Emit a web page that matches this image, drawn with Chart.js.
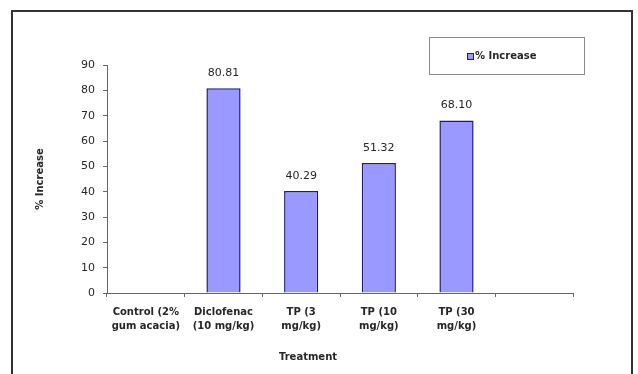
<!DOCTYPE html>
<html>
<head>
<meta charset="utf-8">
<script src="https://cdn.jsdelivr.net/npm/chart.js@4.4.1/dist/chart.umd.min.js"></script>
<style>
  html, body { margin: 0; padding: 0; background: #ffffff; }
  #wrap { width: 638px; height: 374px; position: relative; }
</style>
</head>
<body>
<div id="wrap"><canvas id="c" width="638" height="374"></canvas></div>
<script>
// Treatment groups (the last slot is left empty on the category axis)
const categories = [
  ['Control (2%', 'gum acacia)'],
  ['Diclofenac', '(10 mg/kg)'],
  ['TP (3', 'mg/kg)'],
  ['TP (10', 'mg/kg)'],
  ['TP (30', 'mg/kg)'],
  ''
];
// Percent increase per group
const percentIncrease = [null, 80.81, 40.29, 51.32, 68.10, null];
const yTicks = [0, 10, 20, 30, 40, 50, 60, 70, 80, 90];
const seriesName = '% Increase';

const FONT = '"DejaVu Sans", "Liberation Sans", Arial, sans-serif';
const BAR_FILL = '#9999ff';
const BAR_EDGE = '#1a1a80';
const TEXT = '#262626';

// Outer frame, legend box, value labels and axis title
const decorations = {
  id: 'decorations',
  afterDraw(chart) {
    const ctx = chart.ctx;
    const area = chart.chartArea;
    ctx.save();

    // frame around the figure
    ctx.strokeStyle = '#333333';
    ctx.lineWidth = 2;
    ctx.beginPath();
    ctx.moveTo(12, 380);
    ctx.lineTo(12, 11);
    ctx.lineTo(632, 11);
    ctx.lineTo(632, 380);
    ctx.stroke();

    // value labels above the bars
    const meta = chart.getDatasetMeta(0);
    ctx.fillStyle = TEXT;
    ctx.font = '11px ' + FONT;
    ctx.textAlign = 'center';
    ctx.textBaseline = 'middle';
    meta.data.forEach((bar, i) => {
      const v = percentIncrease[i];
      if (v === null || v === undefined) return;
      ctx.fillText(v.toFixed(2), bar.x, bar.y - 15);
    });

    // x axis title
    ctx.font = 'bold 10px ' + FONT;
    ctx.fillStyle = TEXT;
    ctx.fillText('Treatment', area.left + 201, 357);

    // legend box
    ctx.strokeStyle = '#8a8a8a';
    ctx.lineWidth = 1;
    ctx.strokeRect(429.5, 37.5, 155, 37);
    ctx.fillStyle = BAR_FILL;
    ctx.fillRect(467, 53, 7, 7);
    ctx.strokeStyle = BAR_EDGE;
    ctx.strokeRect(467.5, 53.5, 6, 6);
    ctx.fillStyle = TEXT;
    ctx.textAlign = 'left';
    ctx.font = 'bold 10px ' + FONT;
    ctx.fillText(seriesName, 475, 56.5);

    ctx.restore();
  }
};

new Chart(document.getElementById('c'), {
  type: 'bar',
  data: {
    labels: categories,
    datasets: [{
      label: seriesName,
      data: percentIncrease,
      backgroundColor: BAR_FILL,
      borderColor: BAR_EDGE,
      borderWidth: 1.5,
      barPercentage: 0.44,
      categoryPercentage: 1.0
    }]
  },
  options: {
    responsive: false,
    animation: false,
    devicePixelRatio: 1,
    layout: { padding: { left: 0, right: 65, top: 65, bottom: 0 } },
    plugins: {
      legend: { display: false },
      tooltip: { enabled: false }
    },
    scales: {
      x: {
        offset: true,
        grid: {
          display: true,
          offset: true,
          drawOnChartArea: false,
          drawTicks: true,
          tickLength: 4,
          color: '#666666'
        },
        border: { display: true, color: '#666666', width: 1 },
        ticks: {
          color: TEXT,
          font: { family: FONT, size: 10, weight: 'bold', lineHeight: 1.4 },
          padding: 8,
          maxRotation: 0,
          minRotation: 0,
          autoSkip: false
        },
        afterFit(scale) { scale.height = 81; }
      },
      y: {
        min: 0,
        max: 90,
        afterBuildTicks(scale) { scale.ticks = yTicks.map(v => ({ value: v })); },
        grid: {
          display: true,
          drawOnChartArea: false,
          drawTicks: true,
          tickLength: 4,
          color: '#666666'
        },
        border: { display: true, color: '#666666', width: 1 },
        ticks: {
          color: TEXT,
          font: { family: FONT, size: 11 },
          padding: 8
        },
        title: {
          display: true,
          text: seriesName,
          color: TEXT,
          font: { family: FONT, size: 10, weight: 'bold' },
          padding: { top: 34, bottom: 0 }
        },
        afterFit(scale) { scale.width = 107; }
      }
    }
  },
  plugins: [decorations]
});
</script>
</body>
</html>
